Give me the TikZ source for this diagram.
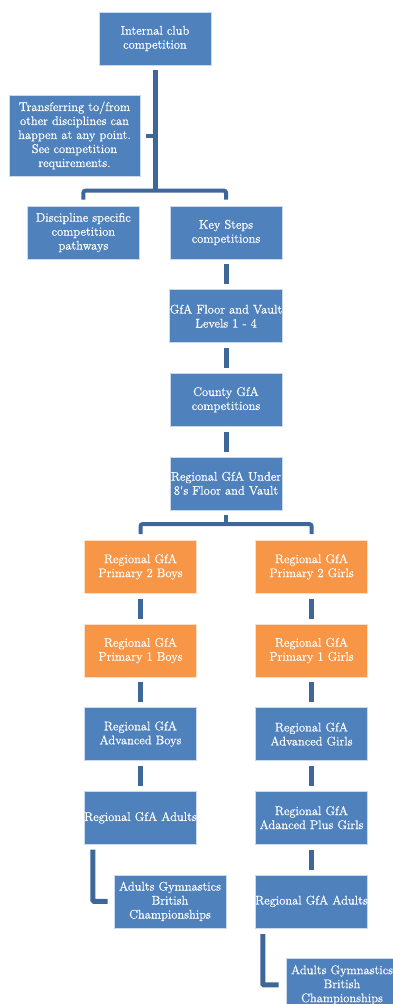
\documentclass[tikz,border=0pt]{standalone}
\usepackage{fontspec}
\usetikzlibrary{positioning}
\newfontfamily\boxfont{Latin Modern Roman}[FakeBold=0.7]
\definecolor{boxblue}{RGB}{79,129,189}
\definecolor{boxorange}{RGB}{247,150,70}
\definecolor{lineblue}{RGB}{61,103,153}
\tikzset{
        x=1pt, y=1pt,
        node distance=30pt, % gap between two boxes
        box/.style={draw=white!70!boxblue, line width=0.6pt, fill=boxblue, text=white,
                minimum width=112pt, minimum height=53pt, inner sep=0pt, align=center,
                font=\boxfont\fontsize{12.5}{14}\selectfont},
        orangebox/.style={box, fill=boxorange, draw=white!70!boxorange},
        link/.style={lineblue, line width=5pt, shorten <=5pt, shorten >=5pt}, % short bars between boxes
        branch/.style={lineblue, line width=4pt, rounded corners=2pt},
        }

\begin{document}
\begin{tikzpicture}
        \useasboundingbox (0,0) rectangle (393,-1004);
        % top part
        \node[box] (Club) at (155,-38.5) {Internal club\\competition};
        \node[box, minimum width=131pt, minimum height=81pt] (Transfer) at (74.5,-135.5) {Transferring to/from\\other disciplines can\\happen at any point.\\See competition\\requirements.};
        \node[box] (KeySteps) at (226,-232.5) {Key Steps\\competitions};
        \node[box, left=of KeySteps] (Discipline) {Discipline specific\\competition\\pathways};
        \node[box, below=of KeySteps] (FloorVault) {GfA Floor and Vault\\Levels 1 - 4};
        \node[box, below=of FloorVault] (County) {County GfA\\competitions};
        \node[box, below=of County] (UnderEight) {Regional GfA Under\\8's Floor and Vault};

        % boys
        \node[orangebox, below=of UnderEight, xshift=-85.5pt] (BoysPrimTwo) {Regional GfA\\Primary 2 Boys};
        \node[orangebox, below=of BoysPrimTwo] (BoysPrimOne) {Regional GfA\\Primary 1 Boys};
        \node[box, below=of BoysPrimOne] (BoysAdvanced) {Regional GfA\\Advanced Boys};
        \node[box, below=of BoysAdvanced] (BoysAdults) {Regional GfA Adults};
        \node[box, below=of BoysAdults, xshift=29.5pt] (BoysBritish) {Adults Gymnastics\\British\\Championships};

        % girls
        \node[orangebox, below=of UnderEight, xshift=85.5pt] (GirlsPrimTwo) {Regional GfA\\Primary 2 Girls};
        \node[orangebox, below=of GirlsPrimTwo] (GirlsPrimOne) {Regional GfA\\Primary 1 Girls};
        \node[box, below=of GirlsPrimOne] (GirlsAdvanced) {Regional GfA\\Advanced Girls};
        \node[box, below=of GirlsAdvanced] (GirlsAdvPlus) {Regional GfA\\Adanced Plus Girls};
        \node[box, below=of GirlsAdvPlus] (GirlsAdults) {Regional GfA Adults};
        \node[box, below=of GirlsAdults, xshift=30.5pt] (GirlsBritish) {Adults Gymnastics\\British\\Championships};

        % connectors
        \coordinate (Fork) at ([yshift=15pt]Club.south |- KeySteps.north);
        \draw[branch, line width=5pt] ([yshift=-5pt]Club.south) -- (Fork);
        \draw[branch] (Club.south |- Transfer.east) -- ([xshift=6pt]Transfer.east);
        \draw[branch] ([yshift=6pt]Discipline.north) |- (Fork) -| ([yshift=6pt]KeySteps.north);
        \draw[link] (KeySteps) -- (FloorVault);
        \draw[link] (FloorVault) -- (County);
        \draw[link] (County) -- (UnderEight);

        \coordinate (Split) at ([yshift=-14pt]UnderEight.south);
        \draw[branch] ([yshift=-5pt]UnderEight.south) -- (Split);
        \draw[branch] ([yshift=6pt]BoysPrimTwo.north) |- (Split) -| ([yshift=6pt]GirlsPrimTwo.north);

        \draw[link] (BoysPrimTwo) -- (BoysPrimOne);
        \draw[link] (BoysPrimOne) -- (BoysAdvanced);
        \draw[link] (BoysAdvanced) -- (BoysAdults);
        \draw[branch, line width=5pt, rounded corners=1pt] ([xshift=9pt, yshift=-5pt]BoysAdults.south west) |- ([xshift=-6pt]BoysBritish.west);

        \draw[link] (GirlsPrimTwo) -- (GirlsPrimOne);
        \draw[link] (GirlsPrimOne) -- (GirlsAdvanced);
        \draw[link] (GirlsAdvanced) -- (GirlsAdvPlus);
        \draw[link] (GirlsAdvPlus) -- (GirlsAdults);
        \draw[branch, line width=5pt, rounded corners=1pt] ([xshift=8pt, yshift=-6pt]GirlsAdults.south west) |- ([xshift=-7pt]GirlsBritish.west);
\end{tikzpicture}
\end{document}
